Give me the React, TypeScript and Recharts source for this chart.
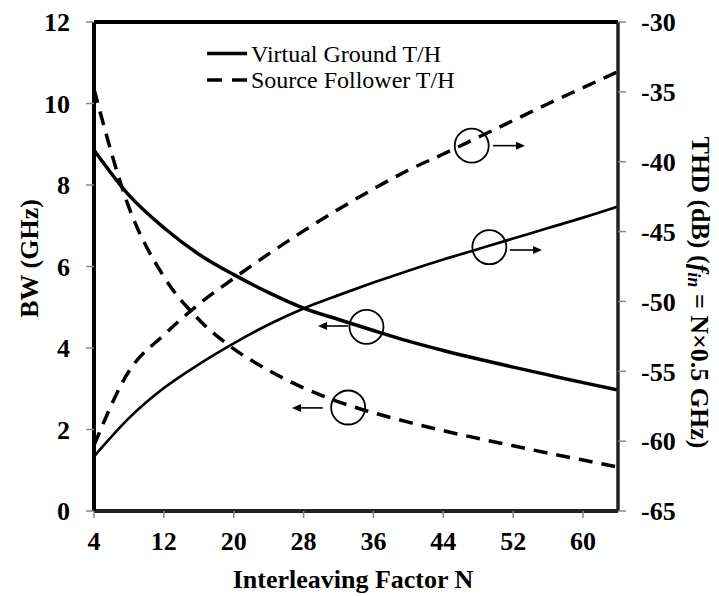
import {
  Label,
  Legend,
  Line,
  LineChart,
  ReferenceDot,
  ReferenceLine,
  XAxis,
  YAxis,
} from 'recharts'

const FONT = '"Liberation Serif", "Times New Roman", Times, serif'

// interleaving factor N
const interleaving = [4, 8, 12, 16, 20, 24, 28, 32, 36, 40, 44, 48, 52, 56, 60, 64]

// bandwidth (GHz), left axis
const bwVirtualGround = [8.86, 7.75, 6.95, 6.3, 5.8, 5.36, 4.98, 4.7, 4.43, 4.17, 3.94, 3.73, 3.53, 3.34, 3.15, 2.97]
const bwSourceFollower = [10.35, 7.45, 5.75, 4.7, 3.98, 3.45, 3.02, 2.68, 2.41, 2.18, 1.97, 1.78, 1.6, 1.42, 1.25, 1.08]

// THD (dB), right axis
const thdVirtualGround = [-61.1, -58.35, -56.2, -54.5, -53.0, -51.65, -50.5, -49.55, -48.65, -47.8, -47.0, -46.25, -45.5, -44.75, -44.0, -43.2]
const thdSourceFollower = [-60.3, -55.0, -52.4, -50.2, -48.35, -46.6, -44.95, -43.4, -41.95, -40.6, -39.45, -38.25, -37.05, -35.85, -34.7, -33.55]

const xTicks = [4, 12, 20, 28, 36, 44, 52, 60]
const bwTicks = [0, 2, 4, 6, 8, 10, 12]
const thdTicks = [-65, -60, -55, -50, -45, -40, -35, -30]

const legendItems = [
  { label: 'Virtual Ground T/H', dash: undefined },
  { label: 'Source Follower T/H', dash: '15 10' },
]

// circled curves + arrows pointing to the axis they belong to
const circleMarks = [
  { axis: 'right', n: 47.25, v: -38.85 },
  { axis: 'right', n: 49.27, v: -46.12 },
  { axis: 'left', n: 35.2, v: 4.52 },
  { axis: 'left', n: 33.1, v: 2.54 },
]
const arrowMarks = [
  { axis: 'right', from: 49.7, to: 53.35, v: -38.85 },
  { axis: 'right', from: 51.6, to: 55.3, v: -46.32 },
  { axis: 'left', from: 33.1, to: 29.65, v: 4.54 },
  { axis: 'left', from: 30.2, to: 26.67, v: 2.53 },
]

const data = interleaving.map((n, i) => ({
  n,
  bwVg: bwVirtualGround[i],
  bwSf: bwSourceFollower[i],
  thdVg: thdVirtualGround[i],
  thdSf: thdSourceFollower[i],
}))

const tickStyle = { fill: '#000', fontSize: 26, fontWeight: 'bold', fontFamily: FONT }

function ArrowShape(props: any) {
  const x1 = Number(props.x1)
  const y1 = Number(props.y1)
  const x2 = Number(props.x2)
  const dir = Math.sign(x2 - x1) || 1
  const head = 9
  const bx = x2 - dir * head
  return (
    <g>
      <line x1={x1} y1={y1} x2={bx} y2={y1} stroke="#000" strokeWidth={1.6} />
      <polygon points={`${x2},${y1} ${bx},${y1 - 4} ${bx},${y1 + 4}`} fill="#000" />
    </g>
  )
}

function LegendBox() {
  return (
    <svg width={260} height={54} style={{ display: 'block' }}>
      {legendItems.map((it, i) => {
        const cy = 13.5 + i * 26.5
        return (
          <g key={it.label}>
            <line x1={0} y1={cy} x2={40} y2={cy} stroke="#000" strokeWidth={3.5} strokeDasharray={it.dash} />
            <text x={44} y={cy} dy="0.35em" fontFamily={FONT} fontSize={24} fill="#000">
              {it.label}
            </text>
          </g>
        )
      })}
    </svg>
  )
}

const leftTitle = (props: any) => {
  const vb = props.viewBox
  const x = vb.x + 29
  const y = vb.y + vb.height / 2 - 8
  return (
    <text x={x} y={y} textAnchor="middle" dominantBaseline="central" transform={`rotate(-90 ${x} ${y})`}
      fontFamily={FONT} fontSize={26} fontWeight="bold" fill="#000">
      BW (GHz)
    </text>
  )
}

const rightTitle = (props: any) => {
  const vb = props.viewBox
  const x = vb.x + 82
  const y = vb.y + vb.height / 2 + 26
  return (
    <text x={x} y={y} textAnchor="middle" dominantBaseline="central" transform={`rotate(90 ${x} ${y})`}
      fontFamily={FONT} fontSize={26} fontWeight="bold" fill="#000">
      THD (dB) (<tspan fontStyle="italic">f</tspan>
      <tspan fontStyle="italic" fontSize={18} dy={6}>in</tspan>
      <tspan dy={-6}> = N×0.5 GHz)</tspan>
    </text>
  )
}

const bottomTitle = (props: any) => {
  const vb = props.viewBox
  return (
    <text x={vb.x + vb.width / 2 - 3} y={vb.y + 77} textAnchor="middle"
      fontFamily={FONT} fontSize={26} fontWeight="bold" fill="#000">
      Interleaving Factor N
    </text>
  )
}

export default function App() {
  return (
    <div style={{ position: 'absolute', left: 0, top: 0, width: 719, height: 596, background: '#fff' }}>
      <LineChart width={719} height={596} data={data} margin={{ top: 22, right: 0, bottom: 0, left: 0 }}>
        <XAxis
          dataKey="n"
          type="number"
          domain={[4, 64]}
          ticks={xTicks}
          interval={0}
          height={85}
          tickSize={7}
          tickMargin={14}
          tick={tickStyle}
          axisLine={{ stroke: '#222', strokeWidth: 4 }}
          tickLine={{ stroke: '#888', strokeWidth: 1.5 }}
        >
          <Label content={bottomTitle} />
        </XAxis>
        <YAxis
          yAxisId="left"
          domain={[0, 12]}
          ticks={bwTicks}
          interval={0}
          width={94}
          tickSize={8}
          tickMargin={16}
          tick={tickStyle}
          axisLine={{ stroke: '#000', strokeWidth: 4 }}
          tickLine={{ stroke: '#888', strokeWidth: 1.5 }}
        >
          <Label content={leftTitle} />
        </YAxis>
        <YAxis
          yAxisId="right"
          orientation="right"
          domain={[-65, -30]}
          ticks={thdTicks}
          interval={0}
          width={101}
          tickSize={8}
          tickMargin={15}
          tick={tickStyle}
          axisLine={{ stroke: '#222', strokeWidth: 3.5 }}
          tickLine={{ stroke: '#888', strokeWidth: 1.5 }}
        >
          <Label content={rightTitle} />
        </YAxis>
        <ReferenceLine yAxisId="left" y={12} stroke="#000" strokeWidth={4} />
        <Legend
          layout="vertical"
          align="center"
          verticalAlign="middle"
          wrapperStyle={{ left: 207, top: 40, width: 260 }}
          content={<LegendBox />}
        />
        <Line yAxisId="left" type="monotone" dataKey="bwVg" stroke="#000" strokeWidth={3.5} dot={false} isAnimationActive={false} />
        <Line yAxisId="left" type="monotone" dataKey="bwSf" stroke="#000" strokeWidth={3.5} strokeDasharray="14 9" dot={false} isAnimationActive={false} />
        <Line yAxisId="right" type="monotone" dataKey="thdVg" stroke="#000" strokeWidth={2.7} dot={false} isAnimationActive={false} />
        <Line yAxisId="right" type="monotone" dataKey="thdSf" stroke="#000" strokeWidth={3.5} strokeDasharray="14 9" dot={false} isAnimationActive={false} />
        {circleMarks.map((c, i) => (
          <ReferenceDot key={`c${i}`} yAxisId={c.axis} x={c.n} y={c.v} r={17} fill="none" stroke="#000" strokeWidth={1.8} />
        ))}
        {arrowMarks.map((a, i) => (
          <ReferenceLine
            key={`a${i}`}
            yAxisId={a.axis}
            segment={[{ x: a.from, y: a.v }, { x: a.to, y: a.v }]}
            shape={ArrowShape}
          />
        ))}
      </LineChart>
    </div>
  )
}
